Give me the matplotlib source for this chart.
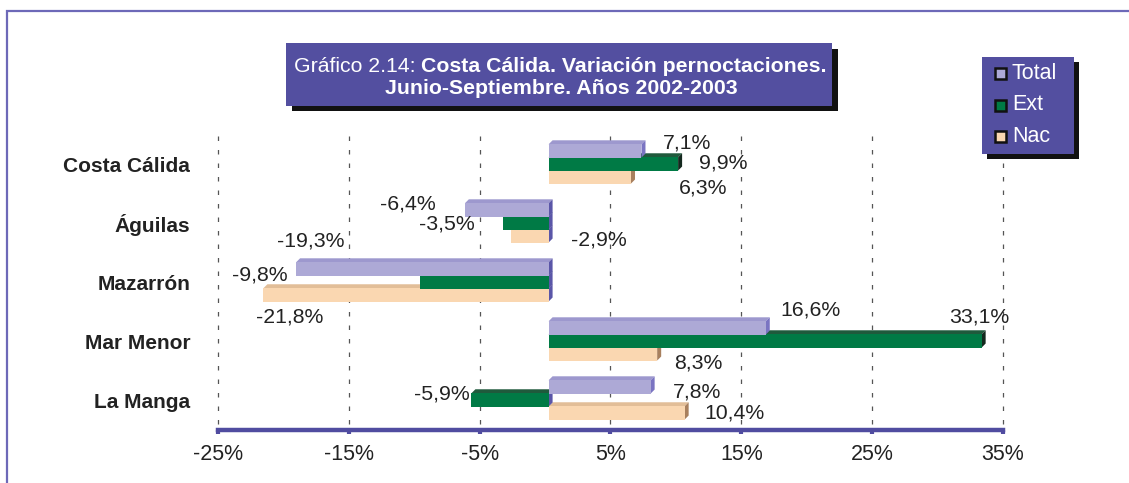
import matplotlib
matplotlib.use('Agg')
import matplotlib.pyplot as plt
from matplotlib.patches import Rectangle, Polygon
from matplotlib.transforms import ScaledTranslation

# ---------------- data ----------------
categories = ['Costa Cálida', 'Águilas', 'Mazarrón', 'Mar Menor', 'La Manga']
series_names = ['Total', 'Ext', 'Nac']
total = [7.1, -6.4, -19.3, 16.6, 7.8]
ext = [9.9, -3.5, -9.8, 33.1, -5.9]
nac = [6.3, -2.9, -21.8, 8.3, 10.4]
xticks = [-25, -15, -5, 5, 15, 25, 35]
title_normal = 'Gráfico 2.14: '
title_bold1 = 'Costa Cálida. Variación pernoctaciones.'
title_bold2 = 'Junio-Septiembre. Años 2002-2003'

# ---------------- styles ----------------
front_col = {'Total': '#ADA9D6', 'Ext': '#007A45', 'Nac': '#FAD7B1'}
top_col = {'Total': '#9D98CE', 'Ext': '#1F5A3C', 'Nac': '#E2BE98'}
side_col = {'Total': '#7A74C2', 'Ext': '#14291E', 'Nac': '#A8805E'}
zero_side = '#5A56A8'
offsets = {'Total': -0.23, 'Ext': -0.01, 'Nac': 0.21}
# label offsets in pixels (dx right, dy down) relative to bar end / bar centre
label_off = {
    'Total': [(48.6, -7.9), (-53.8, -5.9), (17.9, -27.9), (48.4, -18.4), (49.5, 4.6)],
    'Ext': [(48.5, -0.9), (-52.7, 1.1), (-157.3, -7.4), (1.6, -24.4), (-26.3, -5.9)],
    'Nac': [(76.1, 11.1), (91.4, 4.6), (29.6, 22.6), (44.9, 9.6), (53.5, 0.6)],
}
values = {'Total': total, 'Ext': ext, 'Nac': nac}

plt.rcParams['font.family'] = ['Liberation Sans', 'DejaVu Sans']

W, H = 1129, 483
fig = plt.figure(figsize=(W / 100, H / 100), dpi=100)
fig.patch.set_facecolor('white')


def fx(px):
    return px / W


def fy(py):
    return 1 - py / H


# outer frame
fig.patches.append(Rectangle((fx(7), fy(700)), 2.0, fy(11) - fy(700), transform=fig.transFigure,
                             fill=False, edgecolor='#6D69B8', lw=1.6, zorder=0))

ax = fig.add_axes([fx(218), fy(430), fx(1003) - fx(218), fy(135) - fy(430)])
ax.set_xlim(-25, 35)
ax.set_ylim(4.5, -0.5)
ax.set_facecolor('none')

# gridlines
for t in xticks:
    ax.plot([t, t], [-0.475, 4.41], ls=(0, (3.6, 7.2)), lw=0.9, color='#555555',
            zorder=1, clip_on=False)

# bars drawn 3.5 px to the right of the back wall (3D depth look)
bar_tr = ax.transData + ScaledTranslation(3.5 / 100, 0, fig.dpi_scale_trans)

h = 0.225
dx = 4 / 13.08
dy = 4 / 59.0
ypos = list(range(len(categories)))

for z, name in zip([2, 3, 4], ['Nac', 'Ext', 'Total']):
    vals = values[name]
    for i, v in enumerate(vals):
        yc = ypos[i] + offsets[name]
        top = yc - h / 2
        bot = yc + h / 2
        lo, hi = min(0, v), max(0, v)
        ax.add_patch(Polygon([(lo, top), (hi, top), (hi + dx, top - dy), (lo + dx, top - dy)],
                             closed=True, facecolor=top_col[name], edgecolor='none', zorder=z,
                             transform=bar_tr))
        sc = side_col[name] if v > 0 else zero_side
        ax.add_patch(Polygon([(hi, top), (hi, bot), (hi + dx, bot - dy), (hi + dx, top - dy)],
                             closed=True, facecolor=sc, edgecolor='none', zorder=z,
                             transform=bar_tr))
    bars = ax.barh([p + offsets[name] for p in ypos], vals, height=h, color=front_col[name],
                   zorder=z, linewidth=0)
    for b in bars:
        b.set_transform(bar_tr)
    for i, v in enumerate(vals):
        ox, oy = label_off[name][i]
        ax.annotate(f'{v:.1f}%'.replace('.', ','), xy=(v, ypos[i] + offsets[name]),
                    xytext=(ox, -oy), textcoords='offset pixels', ha='center', va='center',
                    fontsize=15.3, color='#222222', zorder=6)

# axes styling
for s in ['left', 'right', 'top']:
    ax.spines[s].set_visible(False)
ax.spines['bottom'].set_color('#504CA0')
ax.spines['bottom'].set_linewidth(3.2)
ax.set_xticks(xticks)
ax.set_xticklabels([f'{t}%' for t in xticks])
ax.tick_params(axis='x', length=3, width=3, color='#504CA0', pad=7, labelsize=15.5,
               labelcolor='#222222')
ax.set_yticks(ypos)
ax.set_yticklabels(categories, fontweight='bold', fontsize=15, color='#222222')
ax.tick_params(axis='y', length=0, pad=20)

# title box
box_col = '#534FA0'
fig.patches.append(Rectangle((fx(292), fy(111)), fx(838) - fx(292), fy(49) - fy(111),
                             transform=fig.transFigure, facecolor='#111111', edgecolor='none', zorder=1))
fig.patches.append(Rectangle((fx(286), fy(106)), fx(832) - fx(286), fy(43) - fy(106),
                             transform=fig.transFigure, facecolor=box_col, edgecolor='none', zorder=2))
renderer = fig.canvas.get_renderer()
tfs = 15.3
t1 = fig.text(0, fy(66), title_normal, fontsize=tfs, color='white', va='center', ha='left', zorder=5)
t2 = fig.text(0, fy(66), title_bold1, fontsize=tfs, color='white', fontweight='bold', va='center',
              ha='left', zorder=5)
w1 = t1.get_window_extent(renderer).width
w2 = t2.get_window_extent(renderer).width
start = 560 - (w1 + w2) / 2
t1.set_x(fx(start))
t2.set_x(fx(start + w1))
fig.text(fx(561), fy(88), title_bold2, fontsize=tfs, color='white', fontweight='bold',
         va='center', ha='center', zorder=5)

# legend box
fig.patches.append(Rectangle((fx(987), fy(159)), fx(1079) - fx(987), fy(62) - fy(159),
                             transform=fig.transFigure, facecolor='#111111', edgecolor='none', zorder=1))
fig.patches.append(Rectangle((fx(982), fy(154)), fx(1074) - fx(982), fy(57) - fy(154),
                             transform=fig.transFigure, facecolor=box_col, edgecolor='none', zorder=2))
for k, name in enumerate(series_names):
    yc = 73.5 + 31.5 * k
    fig.patches.append(Rectangle((fx(994.5), fy(yc + 5.5)), fx(11), fy(0) - fy(11),
                                 transform=fig.transFigure, facecolor=front_col[name],
                                 edgecolor='#111111', lw=1.8, zorder=3))
    fig.text(fx(1012), fy(yc), name, fontsize=15.5, color='white', va='center', ha='left', zorder=5)

fig.savefig('out.png', dpi=100)
